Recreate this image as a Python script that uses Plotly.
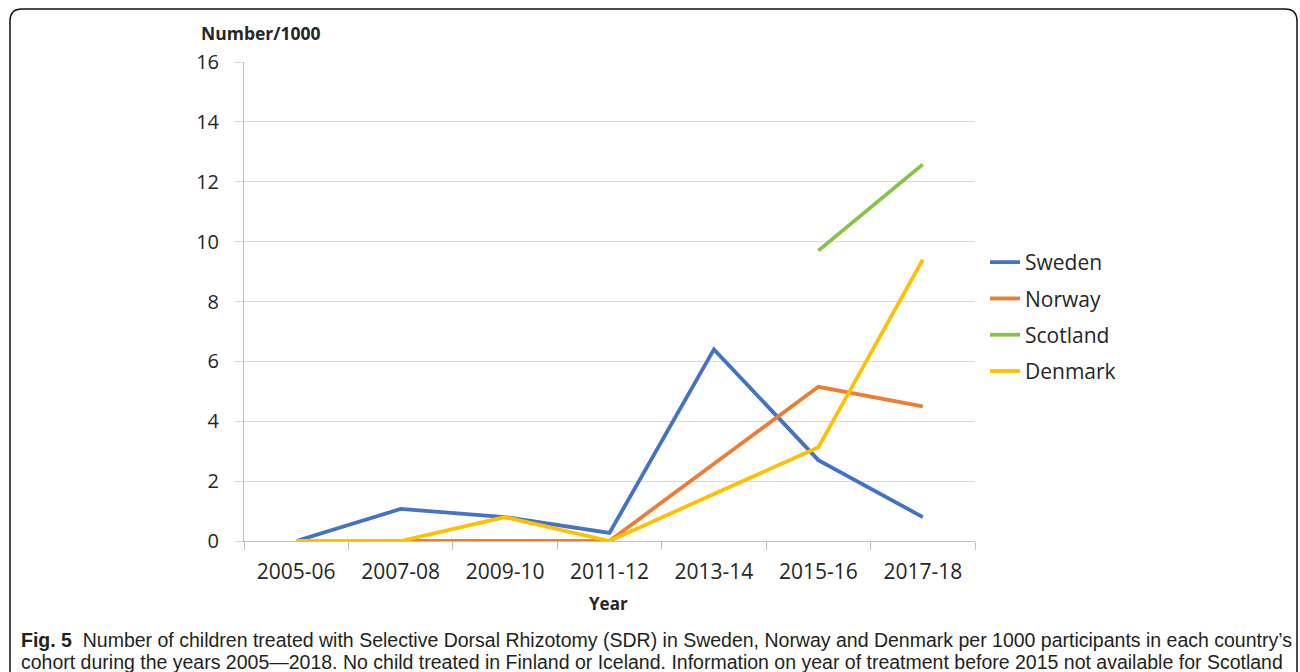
import plotly.graph_objects as go

# Cohort periods and rates (children treated with SDR per 1000 participants)
years = ["2005-06", "2007-08", "2009-10", "2011-12", "2013-14", "2015-16", "2017-18"]
sweden = [0, 1.07, 0.8, 0.27, 6.4, 2.7, 0.8]
norway = [0, 0, 0, 0, 2.58, 5.15, 4.5]
scotland = [None, None, None, None, None, 9.7, 12.58]
denmark = [0, 0, 0.8, 0, 1.57, 3.13, 9.4]

y_ticks = [0, 2, 4, 6, 8, 10, 12, 14, 16]

series = [
    ("Sweden", sweden, "#4472C4"),
    ("Norway", norway, "#ED7D31"),
    ("Scotland", scotland, "#86C443"),
    ("Denmark", denmark, "#FFC000"),
]

W, H = 1300, 672
L, R, T, B = 244, 975, 62, 541

fig = go.Figure()
for i, (name, vals, col) in enumerate(series):
    fig.add_trace(go.Scatter(
        x=years, y=vals, name=name, mode="lines",
        line=dict(color=col, width=3.8),
        legendgroup=f"g{i}", connectgaps=False,
    ))

tick_font = dict(family="Open Sans, sans-serif", size=21, color="#262626")


def px(xp):
    return (xp - L) / (R - L)


def py(yp):
    return (B - yp) / (B - T)


fig.update_layout(
    width=W, height=H,
    margin=dict(l=L, r=W - R, t=T, b=H - B),
    paper_bgcolor="white", plot_bgcolor="white",
    showlegend=True,
    legend=dict(
        x=px(985), y=py(242), xanchor="left", yanchor="top",
        font=dict(family="Open Sans, sans-serif", size=21, color="#262626"),
        tracegroupgap=6, traceorder="grouped", bgcolor="rgba(0,0,0,0)",
        itemwidth=30,
    ),
    xaxis=dict(
        type="category", range=[-0.5, 6.5],
        showgrid=False, showline=True, linecolor="#bfbfbf", linewidth=1,
        ticks="outside", tickson="boundaries", ticklen=8, tickcolor="#bfbfbf",
        tickfont=tick_font, ticklabelstandoff=12,
    ),
    yaxis=dict(
        range=[0, 16], tickvals=y_ticks,
        showgrid=True, gridcolor="#d9d9d9", gridwidth=1,
        showline=True, linecolor="#bfbfbf", linewidth=1,
        ticks="outside", ticklen=8, tickcolor="#d9d9d9",
        tickfont=dict(family="Open Sans, sans-serif", size=20, color="#262626"),
        ticklabelstandoff=12, zeroline=False,
    ),
)

# Axis titles
fig.add_annotation(x=px(199), y=py(33), xref="paper", yref="paper",
                   xanchor="left", yanchor="middle",
                   text="<b>Number/1000</b>", showarrow=False,
                   font=dict(family="Open Sans, sans-serif", size=17.5, color="#262626"))
fig.add_annotation(x=px(608), y=py(603), xref="paper", yref="paper",
                   xanchor="center", yanchor="middle",
                   text="<b>Year</b>", showarrow=False,
                   font=dict(family="Open Sans, sans-serif", size=17, color="#262626"))

# Caption
cap_font = dict(family="Liberation Sans Narrow, Arial Narrow, sans-serif", size=19.5, color="#231f20")
fig.add_annotation(x=px(19), y=py(640), xref="paper", yref="paper",
                   xanchor="left", yanchor="middle", showarrow=False, font=cap_font,
                   text="<b>Fig. 5</b>  Number of children treated with Selective Dorsal Rhizotomy (SDR) in Sweden, "
                        "Norway and Denmark per 1000 participants in each country’s")
fig.add_annotation(x=px(19), y=py(662), xref="paper", yref="paper",
                   xanchor="left", yanchor="middle", showarrow=False, font=cap_font,
                   text="cohort during the years 2005—2018. No child treated in Finland or Iceland. "
                        "Information on year of treatment before 2015 not available for Scotland")

# Rounded frame around the figure
x0, x1, y0, y1, r = 10, 1297, 9, 690, 12
path = (f"M {px(x0)},{py(y1)} L {px(x0)},{py(y0 + r)} "
        f"Q {px(x0)},{py(y0)} {px(x0 + r)},{py(y0)} "
        f"L {px(x1 - r)},{py(y0)} Q {px(x1)},{py(y0)} {px(x1)},{py(y0 + r)} "
        f"L {px(x1)},{py(y1)}")
fig.add_shape(type="path", path=path, xref="paper", yref="paper",
              line=dict(color="#111111", width=1.5))

fig.write_html("out.html")
